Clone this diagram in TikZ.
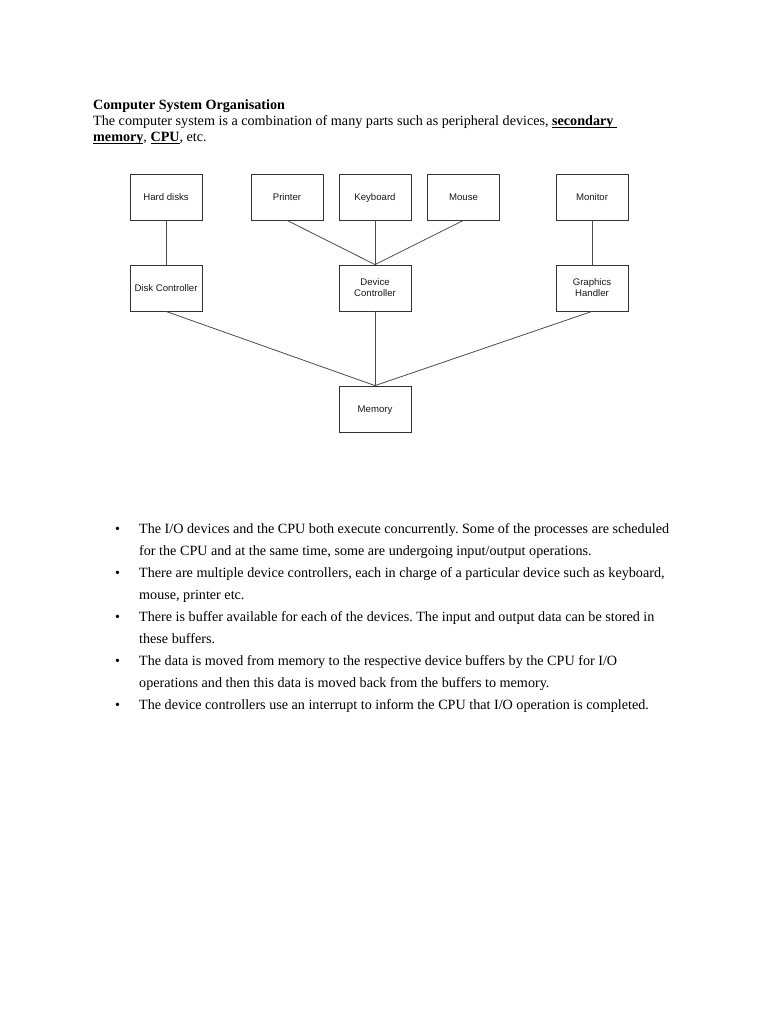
\documentclass[tikz,border=0pt]{standalone}
\usepackage{fontspec}
\setmainfont{Liberation Serif}
\newfontfamily\diafont{Liberation Sans}
\newcommand\myul[1]{\underline{\smash{#1}}}
\frenchspacing
\begin{document}
\begin{tikzpicture}[x=1pt,y=-1pt,
  box/.style={draw=black!80, line width=0.8pt, minimum width=72pt, minimum height=46pt, inner sep=0pt,
    font=\diafont\fontsize{9.6}{11}\selectfont, align=center, text=black!90},
  onebox/.style={box, text height=7pt, text depth=0pt},
  link/.style={draw=black!70, line width=0.8pt},
  txt/.style={anchor=base west, inner sep=0pt, font=\frenchspacing\fontsize{14.15}{16}\selectfont},
  bul/.style={anchor=base west, inner sep=0pt, font=\fontsize{14}{16}\selectfont}]
\useasboundingbox[fill=white] (0,0) rectangle (768,1024);

% header text
\node[txt] (title) at (93,110) {\bfseries Computer System Organisation};
\node[txt] (l1) at (93,126) {The computer system is a combination of many parts such as peripheral devices, {\bfseries\myul{secondary\ }}};
\node[txt] (l2) at (93,142) {{\bfseries\myul{memory}}, {\bfseries\myul{CPU}}, etc.};

% diagram
\node[onebox] (hd)  at (166,197) {Hard disks};
\node[onebox] (pr)  at (287,197) {Printer};
\node[onebox] (kb)  at (375,197) {Keyboard};
\node[onebox] (ms)  at (463.5,197) {Mouse};
\node[onebox] (mo)  at (592,197) {Monitor};
\node[onebox] (dc)  at (166,288) {Disk Controller};
\node[box] (dev) at (375,288) {Device\\Controller};
\node[box] (gh)  at (592,288) {Graphics\\Handler};
\node[onebox] (mem) at (375,409) {Memory};

\draw[link] (hd.south) -- (dc.north);
\draw[link] (pr.south) -- (dev.north);
\draw[link] (kb.south) -- (dev.north);
\draw[link] (ms.south) -- (dev.north);
\draw[link] (mo.south) -- (gh.north);
\draw[link] (dc.south) -- (mem.north);
\draw[link] (dev.south) -- (mem.north);
\draw[link] (gh.south) -- (mem.north);

% bullets
\foreach \y/\n in {533/b1,577/b2,621/b3,665/b4,709/b5}
  \node[bul] (\n) at (115,\y) {•};
\node[txt] (t1a) at (139,533) {The I/O devices and the CPU both execute concurrently. Some of the processes are scheduled};
\node[txt] (t1b) at (139,555) {for the CPU and at the same time, some are undergoing input/output operations.};
\node[txt] (t2a) at (139,577) {There are multiple device controllers, each in charge of a particular device such as keyboard,};
\node[txt] (t2b) at (139,599) {mouse, printer etc.};
\node[txt] (t3a) at (139,621) {There is buffer available for each of the devices. The input and output data can be stored in};
\node[txt] (t3b) at (139,643) {these buffers.};
\node[txt] (t4a) at (139,665) {The data is moved from memory to the respective device buffers by the CPU for I/O};
\node[txt] (t4b) at (139,687) {operations and then this data is moved back from the buffers to memory.};
\node[txt] (t5a) at (139,709) {The device controllers use an interrupt to inform the CPU that I/O operation is completed.};
\end{tikzpicture}
\end{document}
